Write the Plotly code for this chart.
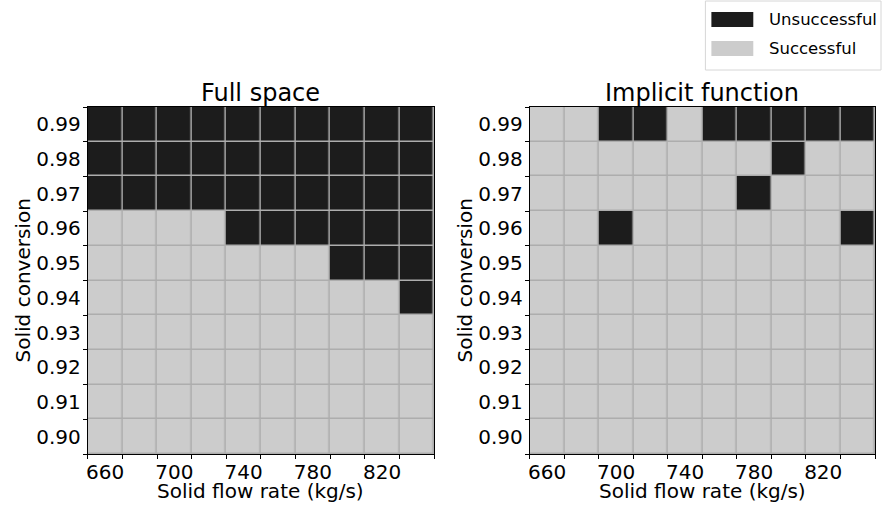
import plotly.graph_objects as go

# ---- data ----
flow_rates = [660, 680, 700, 720, 740, 760, 780, 800, 820, 840]
conversions = [0.90, 0.91, 0.92, 0.93, 0.94, 0.95, 0.96, 0.97, 0.98, 0.99]
x_tick_vals = [660, 700, 740, 780, 820]
y_tick_vals = [0.90, 0.91, 0.92, 0.93, 0.94, 0.95, 0.96, 0.97, 0.98, 0.99]
y_tick_text = ["0.90", "0.91", "0.92", "0.93", "0.94", "0.95", "0.96", "0.97", "0.98", "0.99"]
x_bounds = [650, 670, 690, 710, 730, 750, 770, 790, 810, 830, 850]
y_bounds = [0.895, 0.905, 0.915, 0.925, 0.935, 0.945, 0.955, 0.965, 0.975, 0.985, 0.995]

# 1 = unsuccessful, 0 = successful; rows from 0.90 (bottom) to 0.99 (top)
z_full = [
    [0, 0, 0, 0, 0, 0, 0, 0, 0, 0],  # 0.90
    [0, 0, 0, 0, 0, 0, 0, 0, 0, 0],  # 0.91
    [0, 0, 0, 0, 0, 0, 0, 0, 0, 0],  # 0.92
    [0, 0, 0, 0, 0, 0, 0, 0, 0, 0],  # 0.93
    [0, 0, 0, 0, 0, 0, 0, 0, 0, 1],  # 0.94
    [0, 0, 0, 0, 0, 0, 0, 1, 1, 1],  # 0.95
    [0, 0, 0, 0, 1, 1, 1, 1, 1, 1],  # 0.96
    [1, 1, 1, 1, 1, 1, 1, 1, 1, 1],  # 0.97
    [1, 1, 1, 1, 1, 1, 1, 1, 1, 1],  # 0.98
    [1, 1, 1, 1, 1, 1, 1, 1, 1, 1],  # 0.99
]
z_implicit = [
    [0, 0, 0, 0, 0, 0, 0, 0, 0, 0],  # 0.90
    [0, 0, 0, 0, 0, 0, 0, 0, 0, 0],  # 0.91
    [0, 0, 0, 0, 0, 0, 0, 0, 0, 0],  # 0.92
    [0, 0, 0, 0, 0, 0, 0, 0, 0, 0],  # 0.93
    [0, 0, 0, 0, 0, 0, 0, 0, 0, 0],  # 0.94
    [0, 0, 0, 0, 0, 0, 0, 0, 0, 0],  # 0.95
    [0, 0, 1, 0, 0, 0, 0, 0, 0, 1],  # 0.96
    [0, 0, 0, 0, 0, 0, 1, 0, 0, 0],  # 0.97
    [0, 0, 0, 0, 0, 0, 0, 1, 0, 0],  # 0.98
    [0, 0, 1, 1, 0, 1, 1, 1, 1, 1],  # 0.99
]
titles = ["Full space", "Implicit function"]
x_title = "Solid flow rate (kg/s)"
y_title = "Solid conversion"
legend_labels = ["Unsuccessful", "Successful"]

BLACK = "#1c1c1c"
GRAY = "#cccccc"
GRID = "#adadad"
W, H = 883, 505
FONT = "DejaVu Sans"


def px_x(p):
    return p / W


def px_y(p):
    return 1 - p / H


fig = go.Figure()
colorscale = [[0, GRAY], [1, BLACK]]
for i, z in enumerate([z_full, z_implicit]):
    sfx = "" if i == 0 else "2"
    fig.add_trace(go.Heatmap(
        x=flow_rates, y=conversions, z=z, zmin=0, zmax=1,
        colorscale=colorscale, showscale=False, xgap=1.5, ygap=1.5,
        xaxis="x" + sfx, yaxis="y" + sfx, hoverinfo="skip",
    ))

domains_x = [[px_x(86), px_x(433)], [px_x(529), px_x(875)]]
domain_y = [px_y(454), px_y(107)]

layout = dict(
    width=W, height=H, autosize=False,
    margin=dict(l=0, r=0, t=0, b=0),
    paper_bgcolor="white", plot_bgcolor=GRID,
    font=dict(family=FONT, size=20, color="black"),
    showlegend=False,
)
for i in range(2):
    sfx = "" if i == 0 else str(i + 1)
    layout["xaxis" + sfx] = dict(
        domain=domains_x[i], range=[650, 850], anchor="y" + sfx,
        tickmode="array", tickvals=x_tick_vals, ticktext=[str(v) for v in x_tick_vals],
        ticks="", showgrid=False, zeroline=False,
        showline=True, linecolor="black", linewidth=1, mirror=True,
        tickfont=dict(size=20), ticklabelstandoff=0,
        minor=dict(tickmode="array", tickvals=x_bounds, ticks="outside",
                   ticklen=4, tickcolor="black", tickwidth=1, showgrid=False),
        fixedrange=True,
    )
    layout["yaxis" + sfx] = dict(
        domain=domain_y, range=[0.895, 0.995], anchor="x" + sfx,
        tickmode="array", tickvals=y_tick_vals, ticktext=y_tick_text,
        ticks="", showgrid=False, zeroline=False,
        showline=True, linecolor="black", linewidth=1, mirror=True,
        tickfont=dict(size=20), ticklabelstandoff=2,
        minor=dict(tickmode="array", tickvals=y_bounds, ticks="outside",
                   ticklen=4, tickcolor="black", tickwidth=1, showgrid=False),
        fixedrange=True,
    )
fig.update_layout(**layout)

# subplot titles and axis titles
ytitle_x = [21, 464]
for i, t in enumerate(titles):
    cx = (domains_x[i][0] + domains_x[i][1]) / 2
    fig.add_annotation(text=t, x=cx, y=px_y(93), xref="paper", yref="paper",
                       xanchor="center", yanchor="middle", showarrow=False,
                       font=dict(size=24, family=FONT, color="black"))
    fig.add_annotation(text=x_title, x=cx, y=px_y(491), xref="paper", yref="paper",
                       xanchor="center", yanchor="middle", showarrow=False,
                       font=dict(size=20, family=FONT, color="black"))
    fig.add_annotation(text=y_title, x=px_x(ytitle_x[i]), y=(domain_y[0] + domain_y[1]) / 2,
                       xref="paper", yref="paper", textangle=-90,
                       xanchor="center", yanchor="middle", showarrow=False,
                       font=dict(size=20, family=FONT, color="black"))

# legend box
fig.add_shape(type="rect", xref="paper", yref="paper",
              x0=px_x(705), x1=px_x(881), y0=px_y(70), y1=px_y(1),
              line=dict(color="#d6d6d6", width=1), fillcolor="white")
swatch_colors = [BLACK, GRAY]
for j, lab in enumerate(legend_labels):
    top = 12 + j * 29
    fig.add_shape(type="rect", xref="paper", yref="paper",
                  x0=px_x(711), x1=px_x(753), y0=px_y(top + 15), y1=px_y(top),
                  line=dict(width=0), fillcolor=swatch_colors[j])
    fig.add_annotation(text=lab, x=px_x(767), y=px_y(top + 7.5), xref="paper", yref="paper",
                       xanchor="left", yanchor="middle", showarrow=False,
                       font=dict(size=16.5, family=FONT, color="black"))

fig.write_html("out.html", config={"displayModeBar": False},
               post_script="document.body.style.margin='0px';document.body.style.overflow='hidden';")
